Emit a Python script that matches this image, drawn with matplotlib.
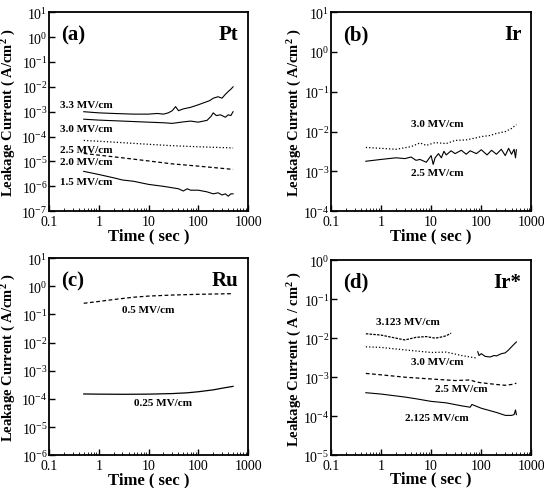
import matplotlib.pyplot as plt
import numpy as np

plt.rcParams['font.family'] = ['Liberation Serif', 'DejaVu Serif']
plt.rcParams['font.weight'] = 'bold'
plt.rcParams['mathtext.fontset'] = 'custom'
plt.rcParams['mathtext.rm'] = 'Liberation Serif'
plt.rcParams['mathtext.it'] = 'Liberation Serif:italic'
plt.rcParams['mathtext.bf'] = 'Liberation Serif:bold'
plt.rcParams['mathtext.default'] = 'regular'

# (a) Pt
t_a33 = [0.5, 1, 2, 5, 10, 15, 20, 25, 30, 35, 40, 50, 70, 100, 130, 170, 200, 250, 300, 350, 400, 450, 500]
j_a33 = [1.0e-3, 9e-4, 8.5e-4, 8e-4, 8e-4, 8.5e-4, 8e-4, 9e-4, 1.1e-3, 1.6e-3, 1.1e-3, 1.3e-3, 1.5e-3, 1.9e-3, 2.3e-3, 2.8e-3, 3.5e-3, 4e-3, 3.5e-3, 5e-3, 6.5e-3, 8e-3, 1.0e-2]
t_a30 = [0.5, 1, 3, 10, 20, 30, 50, 70, 100, 150, 180, 200, 230, 280, 350, 400, 450, 500]
j_a30 = [5e-4, 4.6e-4, 4.2e-4, 3.8e-4, 3.6e-4, 3.4e-4, 3.9e-4, 4.2e-4, 3.8e-4, 4.5e-4, 6.5e-4, 9e-4, 7e-4, 7.5e-4, 6e-4, 7.5e-4, 7e-4, 1.0e-3]
t_a25 = [0.5, 1, 3, 10, 30, 100, 500]
j_a25 = [7e-5, 6.5e-5, 5.7e-5, 4.9e-5, 4.3e-5, 3.9e-5, 3.5e-5]
t_a20 = [0.5, 1, 3, 10, 30, 100, 500]
j_a20 = [2.1e-5, 1.8e-5, 1.4e-5, 1.05e-5, 8e-6, 6.5e-6, 4.8e-6]
t_a15 = [0.5, 1, 2, 3, 5, 10, 20, 40, 50, 60, 70, 100, 150, 200, 250, 300, 350, 400, 450, 500]
j_a15 = [4e-6, 3e-6, 2.2e-6, 1.8e-6, 1.6e-6, 1.2e-6, 1.0e-6, 8e-7, 6.5e-7, 8e-7, 7e-7, 7e-7, 6e-7, 5e-7, 5.5e-7, 4.5e-7, 5e-7, 4e-7, 5e-7, 5e-7]

# (b) Ir
t_b30 = [0.5, 1, 2, 4, 6, 8, 12, 20, 30, 50, 80, 100, 150, 200, 300, 400, 500]
j_b30 = [4e-3, 3.8e-3, 3.6e-3, 4.2e-3, 5.2e-3, 4.5e-3, 5.3e-3, 5e-3, 6e-3, 6.2e-3, 7e-3, 7.5e-3, 8e-3, 9e-3, 1.0e-2, 1.2e-2, 1.5e-2]
t_b25 = [0.5, 1, 2, 3, 4, 5, 6, 8, 10, 11, 12, 14, 16, 18, 20, 25, 30, 40, 50, 60, 80, 100, 130, 160, 200, 250, 300, 350, 400, 450, 480, 500]
j_b25 = [1.8e-3, 2.0e-3, 2.2e-3, 2.1e-3, 2.3e-3, 1.9e-3, 2.0e-3, 1.7e-3, 2.5e-3, 1.5e-3, 2.2e-3, 2.8e-3, 2.2e-3, 3.2e-3, 2.6e-3, 3.3e-3, 2.8e-3, 3.4e-3, 2.7e-3, 3.3e-3, 2.8e-3, 3.5e-3, 2.6e-3, 3.4e-3, 2.7e-3, 3.6e-3, 2.5e-3, 3.8e-3, 2.7e-3, 3.6e-3, 2.2e-3, 3.5e-3]

# (c) Ru
t_c05 = [0.5, 1, 2, 5, 10, 30, 100, 300, 500]
j_c05 = [0.25, 0.29, 0.34, 0.41, 0.45, 0.49, 0.52, 0.54, 0.55]
t_c025 = [0.5, 1, 3, 10, 30, 60, 100, 200, 300, 500]
j_c025 = [1.5e-4, 1.48e-4, 1.46e-4, 1.48e-4, 1.55e-4, 1.65e-4, 1.8e-4, 2.1e-4, 2.4e-4, 2.8e-4]

# (d) Ir*
t_d3123 = [0.5, 1, 2, 3, 5, 8, 12, 15, 20, 25]
j_d3123 = [1.3e-2, 1.2e-2, 1.0e-2, 9e-3, 1.05e-2, 1.1e-2, 1.0e-2, 1.05e-2, 1.15e-2, 1.35e-2]
t_d30 = [0.5, 1, 3, 10, 20, 40, 80]
j_d30 = [6e-3, 5.8e-3, 5e-3, 4.3e-3, 4.4e-3, 3.6e-3, 3.1e-3]
t_d30b = [85, 90, 100, 120, 150, 180, 200, 250, 300, 350, 400, 450, 500]
j_d30b = [4.5e-3, 3.6e-3, 4e-3, 3.4e-3, 3.3e-3, 3.6e-3, 3.5e-3, 4e-3, 4.2e-3, 5e-3, 6e-3, 7e-3, 8e-3]
t_d25 = [0.5, 1, 3, 10, 30, 60, 80, 100, 200, 300, 400, 500]
j_d25 = [1.25e-3, 1.15e-3, 1.0e-3, 9e-4, 8.2e-4, 8.5e-4, 7.5e-4, 7.2e-4, 6.5e-4, 6.2e-4, 6.5e-4, 7e-4]
t_d2125 = [0.5, 1, 3, 5, 10, 20, 40, 60, 65, 100, 200, 300, 400, 450, 480, 500]
j_d2125 = [4e-4, 3.7e-4, 3.1e-4, 2.8e-4, 2.4e-4, 2.2e-4, 1.85e-4, 1.7e-4, 2.0e-4, 1.6e-4, 1.25e-4, 1.05e-4, 1.05e-4, 1.1e-4, 1.45e-4, 1.1e-4]


def style_axes(ax, ymin, ymax, ylabel, tag, metal, ylab_x):
    ax.set_xscale('log')
    ax.set_yscale('log')
    ax.set_xlim(0.1, 1000)
    ax.set_ylim(ymin, ymax)
    ax.set_xticks([0.1, 1, 10, 100, 1000])
    ax.set_xticklabels(['0.1', '1', '10', '100', '1000'])
    ks = range(int(np.log10(ymin)), int(np.log10(ymax)) + 1)
    ax.set_yticks([10.0 ** k for k in ks])
    ax.set_yticklabels(['$10^{%d}$' % k for k in ks])
    ax.yaxis.set_minor_locator(plt.NullLocator())
    ax.tick_params(which='both', direction='in', labelsize=10)
    ax.tick_params(axis='y', pad=1)
    ax.tick_params(axis='x', pad=3)
    ax.tick_params(which='major', length=4, width=1)
    ax.tick_params(which='minor', length=2)
    for s in ax.spines.values():
        s.set_linewidth(1.3)
    for lab in ax.get_xticklabels() + ax.get_yticklabels():
        lab.set_fontweight('normal')
    ax.set_xlabel('Time ( sec )', fontsize=12, fontweight='bold')
    ax.xaxis.set_label_coords(0.5, -0.08)
    ax.set_ylabel(ylabel, fontsize=10.5, fontweight='bold')
    ax.yaxis.set_label_coords(ylab_x, 0.5)
    ax.text(0.06, 0.94, tag, transform=ax.transAxes, fontsize=15, fontweight='bold', va='top')
    ax.text(0.95, 0.94, metal, transform=ax.transAxes, fontsize=15, fontweight='bold', va='top', ha='right')


fig = plt.figure(figsize=(5.44, 4.89), dpi=100)
ax_a = fig.add_axes([0.090, 0.566, 0.366, 0.407])
ax_b = fig.add_axes([0.608, 0.566, 0.369, 0.407])
ax_c = fig.add_axes([0.090, 0.067, 0.366, 0.403])
ax_d = fig.add_axes([0.608, 0.067, 0.369, 0.399])

lab_kw = dict(fontsize=8, fontweight='bold')
ylab = 'Leakage Current ( A/cm$^2$ )'

# (a)
ax = ax_a
ax.plot(t_a33, j_a33, color='k', lw=0.8)
ax.plot(t_a30, j_a30, color='k', lw=0.8)
ax.plot(t_a25, j_a25, color='k', lw=0.9, ls=':')
ax.plot(t_a20, j_a20, color='k', lw=0.9, ls='--', dashes=(3, 2))
ax.plot(t_a15, j_a15, color='k', lw=0.8)
ax.text(0.17, 1.6e-3, '3.3 MV/cm', **lab_kw)
ax.text(0.17, 1.7e-4, '3.0 MV/cm', **lab_kw)
ax.text(0.17, 2.3e-5, '2.5 MV/cm', **lab_kw)
ax.text(0.17, 8e-6, '2.0 MV/cm', **lab_kw)
ax.text(0.17, 1.3e-6, '1.5 MV/cm', **lab_kw)
style_axes(ax, 1e-7, 1e1, ylab, '(a)', 'Pt', -0.155)

# (b)
ax = ax_b
ax.plot(t_b30, j_b30, color='k', lw=0.9, ls=':')
ax.plot(t_b25, j_b25, color='k', lw=0.8)
ax.text(4, 1.4e-2, '3.0 MV/cm', **lab_kw)
ax.text(4, 8e-4, '2.5 MV/cm', **lab_kw)
style_axes(ax, 1e-4, 1e1, ylab, '(b)', 'Ir', -0.135)

# (c)
ax = ax_c
ax.plot(t_c05, j_c05, color='k', lw=0.9, ls='--', dashes=(3, 2))
ax.plot(t_c025, j_c025, color='k', lw=0.9)
ax.text(3, 1.2e-1, '0.5 MV/cm', **lab_kw)
ax.text(5, 6e-5, '0.25 MV/cm', **lab_kw)
style_axes(ax, 1e-6, 1e1, ylab, '(c)', 'Ru', -0.155)

# (d)
ax = ax_d
ax.plot(t_d3123, j_d3123, color='k', lw=0.9, ls='--', dashes=(2, 1))
ax.plot(t_d30, j_d30, color='k', lw=0.9, ls=':')
ax.plot(t_d30b, j_d30b, color='k', lw=0.8)
ax.plot(t_d25, j_d25, color='k', lw=0.9, ls='--', dashes=(3, 2))
ax.plot(t_d2125, j_d2125, color='k', lw=0.8)
ax.text(0.8, 2.3e-2, '3.123 MV/cm', **lab_kw)
ax.text(4, 2.2e-3, '3.0 MV/cm', **lab_kw)
ax.text(12, 4.5e-4, '2.5 MV/cm', **lab_kw)
ax.text(3, 8e-5, '2.125 MV/cm', **lab_kw)
style_axes(ax, 1e-5, 1e0, 'Leakage Current ( A / cm$^2$ )', '(d)', 'Ir*', -0.135)

fig.savefig('out.png', dpi=100)
